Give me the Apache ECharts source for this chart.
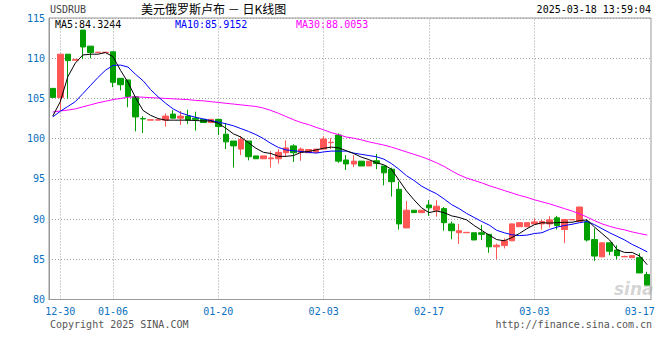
<!DOCTYPE html>
<html>
<head>
<meta charset="utf-8">
<script src="https://cdn.jsdelivr.net/npm/echarts@6/dist/echarts.min.js"></script>
<style>html,body{margin:0;padding:0;background:#fff}#c{width:660px;height:360px}</style>
</head>
<body>
<div id="c"></div>
<script>
const symbolName = 'USDRUB';
const titleText = '美元俄罗斯卢布 － 日K线图';
const timeText = '2025-03-18 13:59:04';
const copyrightText = 'Copyright 2025 SINA.COM';
const urlText = 'http://finance.sina.com.cn';
const maLabels = ['MA5:84.3244', 'MA10:85.9152', 'MA30:88.0053'];

const dates = ['12-29','12-30','12-31',
'01-01','01-02','01-03','01-04','01-05','01-06','01-07','01-08','01-09','01-10',
'01-11','01-12','01-13','01-14','01-15','01-16','01-17','01-18','01-19','01-20',
'01-21','01-22','01-23','01-24','01-25','01-26','01-27','01-28','01-29','01-30','01-31',
'02-01','02-02','02-03','02-04','02-05','02-06','02-07','02-08','02-09','02-10',
'02-11','02-12','02-13','02-14','02-15','02-16','02-17','02-18','02-19','02-20',
'02-21','02-22','02-23','02-24','02-25','02-26','02-27','02-28',
'03-01','03-02','03-03','03-04','03-05','03-06','03-07','03-08','03-09','03-10',
'03-11','03-12','03-13','03-14','03-15','03-16','03-17','03-18'];

const xTickLabels = ['12-30','01-06','01-20','02-03','02-17','03-03','03-17'];
const xGridDates = ['12-30','01-06','01-20','02-03','02-17','03-03'];

const opens = [106.25,105.1,110.5,109.75,113.5,111.5,110.7,110.7,110.8,107.5,
107.3,105.2,102.5,102.3,102.3,102.3,103.05,102.55,102.8,102.55,
102.4,102.0,102.4,100.55,99.7,98.7,99.7,97.85,97.5,97.5,
97.5,98.25,99.1,98.3,98.25,98.3,98.7,99.5,100.45,97.35,
96.85,97.2,96.6,97.25,96.6,96.2,93.7,88.9,91.1,90.8,
91.75,91.1,91.3,89.4,88.3,88.3,88.3,88.3,88.1,86.55,
86.7,87.3,89.05,89.05,89.4,89.4,89.4,90.15,88.7,89.9,
89.7,89.65,87.45,85.3,87.05,86.15,85.3,85.2,85.2,83.1];
const closes = [105.13,110.5,109.7,109.85,111.4,110.7,110.75,110.75,107.0,106.7,
105.25,102.7,102.45,102.35,102.35,102.8,102.55,102.8,102.3,102.4,
102.0,102.4,101.5,99.6,99.1,99.9,97.75,97.5,97.85,97.6,
98.3,98.85,98.25,98.7,98.65,98.7,99.95,99.55,97.2,96.85,
97.2,96.6,97.2,96.9,95.75,94.65,89.4,91.1,90.8,91.1,
91.4,91.6,89.55,88.55,88.55,88.35,87.4,88.1,86.55,86.75,
87.3,89.4,89.55,89.55,89.65,89.7,89.9,89.2,89.95,89.95,
91.5,87.4,85.4,87.05,86.0,85.45,85.35,85.45,83.3,81.8];
const lows = [105.1,103.5,105.0,109.75,109.9,110.0,110.7,110.7,106.4,106.0,
103.9,100.9,100.7,102.3,102.3,101.5,102.5,101.7,101.8,101.0,
102.0,102.0,100.45,98.7,96.4,97.95,97.3,97.5,97.5,96.4,
96.9,97.75,97.1,97.25,98.2,98.3,98.7,98.7,97.0,96.1,
96.45,96.6,96.6,96.2,94.2,92.8,88.7,88.9,90.8,90.8,
90.4,90.3,88.55,87.5,86.9,88.3,87.4,87.4,85.8,85.0,
86.35,87.3,89.05,89.05,89.35,88.7,88.95,88.7,87.0,89.9,
89.7,87.2,84.8,85.3,85.5,85.0,85.3,85.2,83.3,81.8];
const highs = [106.3,110.55,110.5,109.85,113.5,111.5,110.75,110.75,110.8,107.5,
107.3,105.2,102.8,102.35,102.35,103.15,103.55,103.45,103.6,103.35,
102.4,102.4,102.4,101.9,99.7,100.3,99.7,97.85,97.85,98.45,
98.7,99.8,99.3,98.9,98.7,98.7,100.3,100.05,100.65,97.95,
97.95,97.2,97.2,98.1,96.6,96.4,94.65,92.25,91.1,91.1,
92.35,92.35,91.5,89.7,89.4,88.35,88.3,89.25,88.1,86.95,
87.6,89.45,89.55,89.55,90.1,89.9,90.35,90.4,89.95,89.95,
91.5,89.95,88.85,87.05,87.05,86.75,85.45,85.45,85.75,83.45];

const ma5 = [102.8,104.6,107.7,109.4,110.4,110.5,110.5,110.7,110.2,108.5,
107.0,105.1,103.5,102.9,102.5,102.3,102.3,102.3,102.3,102.25,
102.2,102.2,101.9,101.3,100.6,100.2,99.5,98.8,98.3,98.15,
97.8,97.8,97.9,98.3,98.4,98.6,98.8,98.95,98.85,98.5,
98.15,97.7,97.4,97.0,96.75,96.2,94.85,93.5,92.4,91.4,
90.8,91.0,90.8,90.4,90.2,89.9,89.2,88.6,88.0,87.45,
87.3,87.7,88.2,88.8,89.3,89.55,89.5,89.55,89.6,89.6,
89.8,89.9,89.0,88.2,87.4,86.2,85.85,85.85,85.4,84.32];
const ma10 = [102.7,103.4,104.0,104.6,105.6,106.6,107.6,108.5,109.1,109.15,
108.9,108.0,107.2,106.1,105.2,104.4,103.7,103.2,102.9,102.65,
102.45,102.25,102.05,101.85,101.6,101.25,100.9,100.5,100.0,99.4,
98.9,98.6,98.5,98.4,98.3,98.2,98.35,98.45,98.45,98.45,
98.2,98.05,97.9,97.75,97.45,96.9,96.2,95.4,94.8,94.1,
93.6,93.15,92.5,91.8,91.3,90.7,90.2,89.7,89.25,88.6,
88.3,88.05,87.95,88.0,88.2,88.3,88.7,89.0,89.2,89.35,
89.55,89.7,89.3,88.8,88.3,87.85,87.4,86.85,86.4,85.92];
const ma30 = [103.3,103.45,103.55,103.7,103.95,104.2,104.45,104.65,104.85,105.0,
105.15,105.2,105.15,105.1,105.05,105.0,104.95,104.9,104.85,104.75,
104.7,104.6,104.5,104.4,104.3,104.2,104.1,104.0,103.8,103.5,
103.15,102.75,102.35,102.0,101.75,101.4,101.1,100.75,100.5,100.2,
100.05,99.85,99.6,99.4,99.2,98.95,98.65,98.35,98.05,97.75,
97.4,97.0,96.55,96.0,95.5,95.1,94.8,94.5,94.15,93.85,
93.55,93.25,92.95,92.7,92.4,92.15,91.9,91.6,91.3,91.0,
90.65,90.25,89.8,89.4,89.1,88.85,88.65,88.4,88.2,88.01];

const yMin = 80, yMax = 115, yStep = 5;

const upColor = '#ff5656';
const downColor = '#00a000';
const labelBlue = '#0a70c0';
const gridGray = '#a0a0a0';
const mono = '"DejaVu Sans Mono", "Liberation Mono", monospace';

const candleData = dates.map((d, i) => [opens[i], closes[i], lows[i], highs[i]]);

const chart = echarts.init(document.getElementById('c'), null, {renderer: 'svg'});
chart.setOption({
  animation: false,
  backgroundColor: '#fff',
  grid: {left: 49, right: 9, top: 18, bottom: 60.5, show: true, borderColor: '#999', borderWidth: 1, backgroundColor: 'transparent'},
  xAxis: {
    type: 'category',
    data: dates,
    boundaryGap: true,
    axisLine: {show: true, lineStyle: {color: '#999', width: 1}},
    axisTick: {show: false},
    splitLine: {show: false},
    axisLabel: {
      interval: (idx, val) => xTickLabels.indexOf(val) >= 0,
      color: labelBlue, fontFamily: mono, fontSize: 10, margin: 7
    }
  },
  yAxis: {
    type: 'value', min: yMin, max: yMax, interval: yStep, scale: true,
    axisLine: {show: true, lineStyle: {color: '#999', width: 1}},
    axisTick: {show: false},
    axisLabel: {color: labelBlue, fontFamily: mono, fontSize: 10, margin: 4},
    splitLine: {show: true, lineStyle: {color: gridGray, width: 1, type: [1, 2]}}
  },
  series: [
    {
      type: 'candlestick',
      data: candleData,
      barWidth: 6,
      itemStyle: {color: upColor, color0: downColor, borderColor: upColor, borderColor0: downColor, borderWidth: 1},
      emphasis: {disabled: true},
      markLine: {
        silent: true, symbol: 'none', z: 1, animation: false,
        label: {show: false},
        lineStyle: {color: gridGray, width: 1, type: [1, 2]},
        emphasis: {disabled: true},
        data: xGridDates.map(d => ({xAxis: d}))
      }
    },
    {type: 'line', data: ma30, symbol: 'none', lineStyle: {color: '#ff00ff', width: 1}, emphasis: {disabled: true}},
    {type: 'line', data: ma10, symbol: 'none', lineStyle: {color: '#0000ff', width: 1}, emphasis: {disabled: true}},
    {type: 'line', data: ma5, symbol: 'none', lineStyle: {color: '#000000', width: 1}, emphasis: {disabled: true}}
  ],
  graphic: [
    {type: 'text', left: 50, top: 4, style: {text: symbolName, fill: '#444', font: '10px ' + mono}},
    {type: 'text', left: 141, top: 2, style: {text: titleText, fill: '#000', font: '12px "Noto Sans CJK SC"'}},
    {type: 'text', right: 9, top: 4, style: {text: timeText, fill: '#000', font: '10px ' + mono}},
    {type: 'text', left: 55, top: 19, style: {text: maLabels[0], fill: '#000', font: '10px ' + mono}},
    {type: 'text', left: 175, top: 19, style: {text: maLabels[1], fill: '#0000ff', font: '10px ' + mono}},
    {type: 'text', left: 296, top: 19, style: {text: maLabels[2], fill: '#ff00ff', font: '10px ' + mono}},
    {type: 'text', left: 50, top: 319, style: {text: copyrightText, fill: '#555', font: '10px ' + mono}},
    {type: 'text', right: 8, top: 319, style: {text: urlText, fill: '#555', font: '10px ' + mono}},
    {type: 'text', left: 614, top: 280, style: {text: 'sina', fill: 'rgba(160,160,160,0.45)', font: 'italic bold 17px "DejaVu Sans"'}}
  ]
});
</script>
</body>
</html>
